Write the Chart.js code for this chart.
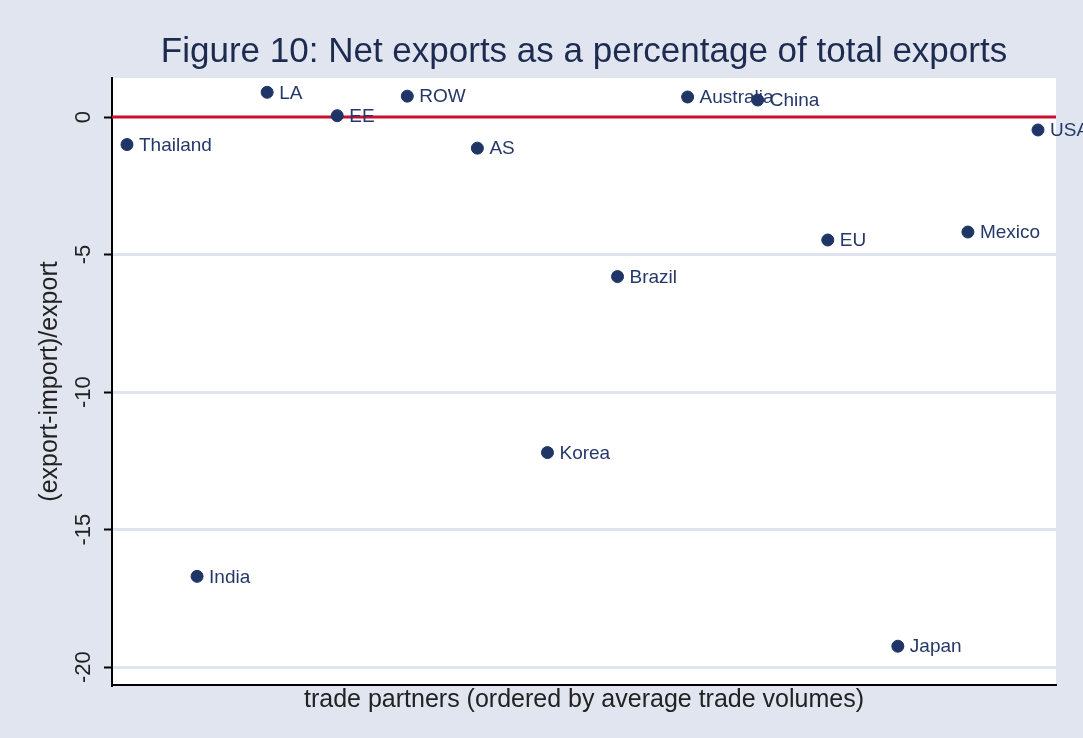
<!DOCTYPE html>
<html>
<head>
<meta charset="utf-8">
<script src="https://cdn.jsdelivr.net/npm/chart.js@4"></script>
<style>
  html, body { margin: 0; padding: 0; background: #e0e5f0; }
  #wrap { width: 1083px; height: 738px; }
</style>
</head>
<body>
<div id="wrap"><canvas id="myChart" width="1083" height="738"></canvas></div>
<script>
// trade partners, ordered by average trade volume (x = rank)
const partners = ["Thailand", "India", "LA", "EE", "ROW", "AS", "Korea", "Brazil",
  "Australia", "China", "EU", "Japan", "Mexico", "USA"];
const ranks = [1, 2, 3, 4, 5, 6, 7, 8, 9, 10, 11, 12, 13, 14];
const netExports = [-1.0, -16.7, 0.9, 0.05, 0.76, -1.13, -12.2, -5.8,
  0.73, 0.62, -4.47, -19.24, -4.18, -0.47];
const yTicks = [0, -5, -10, -15, -20];
const titleText = "Figure 10: Net exports as a percentage of total exports";

const FONT = '"Liberation Sans", Arial, sans-serif';

const plotBg = {
  id: "plotBg",
  beforeDraw(chart) {
    const { ctx, chartArea: a } = chart;
    ctx.save();
    ctx.fillStyle = "#ffffff";
    ctx.fillRect(a.left, a.top, a.right - a.left, a.bottom - a.top);
    ctx.restore();
  },
  // title centred over the plot region, like the Stata original
  afterDraw(chart) {
    const { ctx, chartArea: a } = chart;
    ctx.save();
    ctx.font = "35px " + FONT;
    ctx.fillStyle = "#1c2b4f";
    ctx.textAlign = "center";
    ctx.textBaseline = "middle";
    ctx.fillText(titleText, (a.left + a.right) / 2, 52);
    ctx.restore();
  },
};

// red reference line at y = 0
const zeroLine = {
  id: "zeroLine",
  beforeDatasetsDraw(chart) {
    const { ctx, chartArea: a, scales } = chart;
    const y = scales.y.getPixelForValue(0);
    ctx.save();
    ctx.strokeStyle = "#c8102e";
    ctx.lineWidth = 3;
    ctx.beginPath();
    ctx.moveTo(a.left, y);
    ctx.lineTo(a.right, y);
    ctx.stroke();
    ctx.restore();
  },
};

// marker labels to the right of each point
const pointLabels = {
  id: "pointLabels",
  afterDatasetsDraw(chart) {
    const { ctx } = chart;
    const meta = chart.getDatasetMeta(0);
    ctx.save();
    ctx.font = "19px " + FONT;
    ctx.fillStyle = "#25386a";
    ctx.textBaseline = "middle";
    ctx.textAlign = "left";
    meta.data.forEach((pt, i) => {
      ctx.fillText(partners[i], pt.x + 12, pt.y + 1);
    });
    ctx.restore();
  },
};

const ctx = document.getElementById("myChart").getContext("2d");
const myChart = new Chart(ctx, {
  type: "scatter",
  data: {
    datasets: [
      {
        label: "(export-import)/export",
        data: ranks.map((r, i) => ({ x: r, y: netExports[i] })),
        backgroundColor: "#1f3566",
        borderColor: "#1f3566",
        pointRadius: 6,
        pointHoverRadius: 6,
        clip: false,
      },
    ],
  },
  options: {
    responsive: false,
    animation: false,
    layout: { padding: { top: 78, right: 27, left: 0, bottom: 0 } },
    plugins: {
      legend: { display: false },
      tooltip: { enabled: false },
      title: { display: false },
    },
    scales: {
      x: {
        type: "linear",
        min: 0.786,
        max: 14.257,
        ticks: { display: false },
        grid: { display: false, drawTicks: false },
        border: { display: true, color: "#000000", width: 2 },
        title: {
          display: true,
          text: "trade partners (ordered by average trade volumes)",
          color: "#222222",
          font: { family: FONT, size: 25 },
          padding: { top: 0, bottom: 23 },
        },
        afterFit(scale) { scale.height = 53; },
      },
      y: {
        min: -20.65,
        max: 1.42,
        afterBuildTicks(scale) {
          scale.ticks = yTicks.map((v) => ({ value: v }));
        },
        ticks: {
          color: "#222222",
          font: { family: FONT, size: 22 },
          minRotation: 90,
          maxRotation: 90,
          crossAlign: "center",
          padding: 4,
        },
        grid: {
          color: (c) => (c.tick && c.tick.value === 0 ? "rgba(0,0,0,0)" : "#dfe4ee"),
          lineWidth: 3,
          tickColor: "#000000",
          tickWidth: 2,
          tickLength: 8,
        },
        border: { display: true, color: "#000000", width: 2 },
        title: {
          display: true,
          text: "(export-import)/export",
          color: "#222222",
          font: { family: FONT, size: 25 },
          padding: { top: 35, bottom: 0 },
        },
        afterFit(scale) { scale.width = 112; },
      },
    },
  },
  plugins: [plotBg, zeroLine, pointLabels],
});
</script>
</body>
</html>
